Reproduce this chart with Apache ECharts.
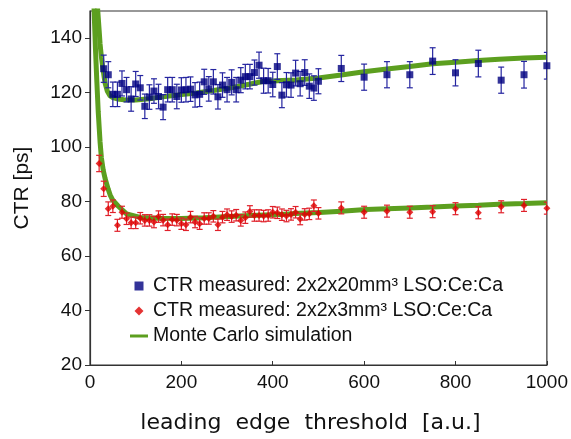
<!DOCTYPE html>
<html>
<head>
<meta charset="utf-8">
<script src="https://cdn.jsdelivr.net/npm/echarts@6/dist/echarts.min.js"></script>
<style>html,body{margin:0;padding:0;background:#fff;}#c{width:571px;height:439px;}</style>
</head>
<body>
<div id="c"></div>
<script>
// ---- data ----
const blueX = [30,40,50,60,70,80,90,100,110,120,130,140,150,160,170,180,190,200,210,220,230,240,250,260,270,280,290,300,310,320,330,340,350,360,370,380,390,400,410,420,430,440,450,460,470,480,490,500,550,600,650,700,750,800,850,900,950,1000];
const blueY = [128.8,126.6,119.4,119.4,123.4,121.1,117.7,123.2,121.8,115.0,118.4,120.6,118.6,114.7,121.1,121.1,118.6,121.0,121.1,121.3,119.2,119.4,124.0,121.4,124.0,118.5,122.8,121.1,123.8,121.1,124.6,125.9,125.9,127.4,130.1,124.4,124.4,123.0,129.6,119.1,122.9,122.8,127.2,123.3,127.4,122.4,121.7,124.2,128.9,125.7,126.6,126.6,131.6,127.3,130.7,124.6,126.6,129.9];
const blueErr = [5.0,4.8,4.5,4.5,4.6,4.5,4.5,4.6,4.5,4.5,4.5,4.5,4.5,4.6,4.5,4.5,4.5,4.5,4.5,4.5,4.5,4.5,4.6,4.5,4.5,4.5,4.5,4.5,4.6,4.5,4.6,4.5,4.5,4.6,4.8,4.6,4.5,4.5,4.7,4.6,4.5,4.5,4.7,4.5,4.7,4.5,4.5,4.6,4.8,4.8,4.8,4.8,4.9,4.8,4.9,4.8,4.9,4.9];

const redX = [20,30,40,50,60,70,80,90,100,110,120,130,140,150,160,170,180,190,200,210,220,230,240,250,260,270,280,290,300,310,320,330,340,350,360,370,380,390,400,410,420,430,440,450,460,470,480,490,500,550,600,650,700,750,800,850,900,950,1000];
const redY = [94.0,84.7,77.4,78.3,71.3,76.1,73.7,72.2,72.2,73.9,73.1,73.1,72.5,74.5,73.2,71.5,73.4,73.2,71.9,71.5,74.3,72.5,71.9,73.8,73.8,74.6,71.5,74.3,75.2,74.5,75.0,73.1,74.1,76.4,74.9,74.9,74.7,74.9,76.1,75.9,75.2,74.7,75.3,76.1,73.6,75.3,75.5,78.5,75.7,77.7,76.1,76.5,76.1,76.3,77.4,75.9,78.1,78.6,77.6];
const redErr = [3.0,2.8,2.5,2.3,2.2,2.2,2.1,2.1,2.1,2.1,2.1,2.1,2.1,2.1,2.1,2.1,2.1,2.1,2.1,2.1,2.1,2.1,2.1,2.1,2.1,2.1,2.1,2.1,2.1,2.1,2.1,2.1,2.1,2.1,2.1,2.1,2.1,2.1,2.1,2.1,2.1,2.1,2.1,2.1,2.1,2.1,2.1,2.1,2.1,2.2,2.2,2.2,2.2,2.2,2.2,2.2,2.2,2.2,2.2];

const simBlueX = [14,17,20,22,25,29,33,38,44,50,60,75,100,130,160,200,233,270,306,340,378,420,451,500,550,604,650,700,750,800,850,895,950,1000];
const simBlueY = [158,150,143,138,133,128,123.5,120.5,118.8,118.2,117.7,117.4,117.3,117.8,118.5,119.3,119.9,120.8,121.7,122.8,124.1,124.5,124.7,125.4,126.5,127.8,128.7,129.6,130.6,131.2,131.8,132.3,132.7,133.0];

const simRedX = [6,9,12,15,18,22,25,29,33,40,44,50,62,80,110,150,200,250,306,350,415,460,502,550,604,650,700,750,800,850,895,950,1000];
const simRedY = [170,150,136,124,113,102,96,91.5,88.5,84.5,82.5,80.5,78.3,75.5,74.2,73.9,73.8,74.1,74.5,74.9,75.3,75.7,76.0,76.5,77.1,77.4,77.7,78.0,78.4,78.7,79.0,79.3,79.6];

const xTicks = [0,200,400,600,800,1000];
const yTicks = [20,40,60,80,100,120,140];

const nameBlue = 'CTR measured: 2x2x20mm³ LSO:Ce:Ca';
const nameRed = 'CTR measured: 2x2x3mm³ LSO:Ce:Ca';
const nameSim = 'Monte Carlo simulation';

// ---- build ----
const zip = (a, b) => a.map((v, i) => [v, b[i]]);
const errData = (xs, ys, es) => xs.map((v, i) => [v, ys[i] - es[i], ys[i] + es[i]]);

function errRender(color) {
  return function (params, api) {
    const x = api.value(0), lo = api.value(1), hi = api.value(2);
    const a = api.coord([x, lo]), b = api.coord([x, hi]);
    const hw = 3;
    const st = { stroke: color, lineWidth: 1.2 };
    return {
      type: 'group',
      children: [
        { type: 'line', shape: { x1: a[0], y1: a[1], x2: b[0], y2: b[1] }, style: st },
        { type: 'line', shape: { x1: a[0] - hw, y1: a[1], x2: a[0] + hw, y2: a[1] }, style: st },
        { type: 'line', shape: { x1: b[0] - hw, y1: b[1], x2: b[0] + hw, y2: b[1] }, style: st }
      ]
    };
  };
}

const chart = echarts.init(document.getElementById('c'), null, { renderer: 'canvas' });
const green = '#5c9f1f';
chart.setOption({
  animation: false,
  backgroundColor: '#ffffff',
  grid: { left: 90, right: 23, top: 11, bottom: 73, show: true, borderColor: '#333', borderWidth: 1.2, backgroundColor: 'transparent' },
  xAxis: {
    type: 'value', min: 0, max: 1000, interval: 200,
    name: 'leading  edge  threshold  [a.u.]', nameLocation: 'middle', nameGap: 47,
    nameTextStyle: { fontFamily: 'DejaVu Sans', fontSize: 22, color: '#111', padding: [0, 16, 0, 0] },
    axisLine: { lineStyle: { color: '#333', width: 1.2 } },
    axisTick: { inside: true, length: 4, lineStyle: { color: '#333' } },
    axisLabel: { margin: 8, fontFamily: 'Liberation Sans', fontSize: 19, color: '#111',
      formatter: v => xTicks.includes(v) ? String(v) : '' },
    splitLine: { show: false }
  },
  yAxis: {
    type: 'value', min: 20, max: 150, interval: 20,
    name: 'CTR [ps]', nameLocation: 'middle', nameGap: 57,
    nameTextStyle: { fontFamily: 'Liberation Sans', fontSize: 21, color: '#111' },
    axisLine: { show: true, lineStyle: { color: '#333', width: 1.2 } },
    axisTick: { show: true, inside: false, length: 5, lineStyle: { color: '#333' } },
    axisLabel: { margin: 8, fontFamily: 'Liberation Sans', fontSize: 19, color: '#111', showMaxLabel: false,
      formatter: v => yTicks.includes(v) ? String(v) : '' },
    splitLine: { show: false }
  },
  legend: {
    orient: 'vertical', left: 130, top: 276, padding: 0, itemGap: 5,
    itemWidth: 18, itemHeight: 9,
    textStyle: { fontFamily: 'Liberation Sans', fontSize: 19.5, color: '#111' },
    data: [
      { name: nameBlue, icon: 'path://M0,0H10V10H0Z' },
      { name: nameRed, icon: 'path://M5,0L10,5L5,10L0,5Z' },
      { name: nameSim, icon: 'path://M0,0H18V3H0Z' }
    ]
  },
  series: [
    { name: nameSim, type: 'line', data: zip(simBlueX, simBlueY), symbol: 'none', clip: true,
      lineStyle: { color: green, width: 5 }, itemStyle: { color: green }, z: 1 },
    { name: nameSim, type: 'line', data: zip(simRedX, simRedY), symbol: 'none', clip: true,
      lineStyle: { color: green, width: 5 }, itemStyle: { color: green }, z: 1 },
    { name: 'errBlue', type: 'custom', renderItem: errRender('#2525a0'), data: errData(blueX, blueY, blueErr), z: 2, clip: true,
      encode: { x: 0, y: [1, 2] } },
    { name: nameBlue, type: 'scatter', data: zip(blueX, blueY), symbol: 'rect', symbolSize: 7,
      itemStyle: { color: '#000080' }, z: 3 },
    { name: 'errRed', type: 'custom', renderItem: errRender('#e0202a'), data: errData(redX, redY, redErr), z: 2, clip: true,
      encode: { x: 0, y: [1, 2] } },
    { name: nameRed, type: 'scatter', data: zip(redX, redY), symbol: 'diamond', symbolSize: 7,
      itemStyle: { color: '#dd0000' }, z: 3 }
  ]
});
</script>
</body>
</html>
